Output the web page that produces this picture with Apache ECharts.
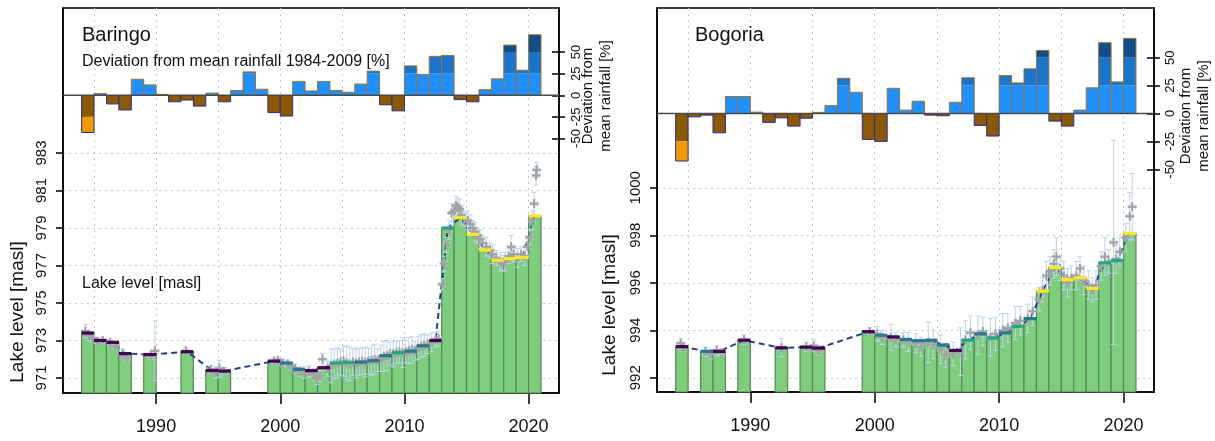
<!DOCTYPE html>
<html><head><meta charset="utf-8">
<script src="https://cdn.jsdelivr.net/npm/echarts@6/dist/echarts.min.js"></script>
<style>html,body{margin:0;padding:0;background:#fff}#c{width:1215px;height:441px}</style>
</head><body><div id="c"></div><script>
// ---------------- data ----------------
const years = [1984,1985,1986,1987,1988,1989,1990,1991,1992,1993,1994,1995,1996,1997,1998,1999,2000,2001,2002,2003,2004,2005,2006,2007,2008,2009,2010,2011,2012,2013,2014,2015,2016,2017,2018,2019,2020];
const baringoRain = [-43,2,-10,-17,18.5,12,1,-7.5,-5.5,-12.5,2.5,-7.5,5.5,27,7,-20,-24,16,5,16,5.5,3.5,13,28,-11,-18,34,24,45,46,-5,-7.5,6.5,19,58,29,70];
const bogoriaRain = [-42.6,-3,-1.5,-17.3,15.2,15.2,1.2,-8,-3.9,-11.3,-4.2,1,7,31.5,19,-23.2,-25,22.6,3,11,-1.5,-2,10,32,-10.7,-20.2,34,27.4,40,56.5,-6.8,-11.3,3,23,63.4,28.3,67.3];

const baringoLakeYears = [1984,1985,1986,1987,1989,1992,1994,1995,1999,2000,2001,2002,2003,2004,2005,2006,2007,2008,2009,2010,2011,2012,2013,2014,2015,2016,2017,2018,2019,2020];
const baringoLakeLevel = [973.4,973.0,972.9,972.3,972.25,972.4,971.4,971.37,971.9,971.8,971.46,971.39,971.55,971.8,971.83,971.85,971.92,972.19,972.35,972.43,972.72,973.0,979.0,979.55,978.66,977.82,977.28,977.37,977.43,979.64];
const baringoLakeClass = ['P','P','P','P','P','P','P','P','P','T','T','P','P','G','G','T','T','T','G','T','T','P','G','Y','Y','Y','Y','Y','Y','Y'];

const bogoriaLakeYears = [1984,1986,1987,1989,1992,1994,1995,1999,2000,2001,2002,2003,2004,2005,2006,2007,2008,2009,2010,2011,2012,2013,2014,2015,2016,2017,2018,2019,2020];
const bogoriaLakeLevel = [993.31,993.11,993.11,993.58,993.26,993.29,993.25,993.94,993.79,993.72,993.61,993.56,993.58,993.38,993.15,993.58,993.85,993.67,993.89,994.17,994.49,995.65,996.64,996.13,996.21,995.76,996.84,996.94,998.08];
const bogoriaLakeClass = ['P','T','P','P','P','P','P','P','T','P','T','T','T','T','P','G','T','G','T','G','T','Y','Y','Y','Y','Y','G','G','Y'];

// individual observations: [decimal year, level, vertical error]
const baringoObs = [
[1984.3,973.5,0.35],[1984.6,973.25,0.25],[1984.9,973.1,0.2],
[1985.3,972.95,0.15],[1985.7,973.0,0.1],
[1986.3,972.9,0.2],[1986.7,972.7,0.2],
[1987.3,972.3,0.25],[1987.6,972.05,0.2],
[1989.6,972.2,0.2],[1989.9,972.45,1.6],
[1992.4,972.45,0.15],
[1994.4,971.45,0.2],[1994.8,971.3,0.3],
[1995.1,971.5,0.45],[1995.5,971.35,0.2],
[1999.5,971.9,0.15],[1999.8,971.95,0.1],
[2000.2,971.8,0.2],[2000.6,971.75,0.2],[2000.9,971.6,0.2],
[2001.2,971.5,0.25],[2001.6,971.35,0.25],[2001.9,971.3,0.3],
[2002.3,971.35,0.3],[2002.7,971.2,0.3],[2002.95,970.95,0.3],
[2003.2,971.1,0.3],[2003.4,972.0,0.3],[2003.8,971.5,0.4],
[2004.1,971.65,0.9],[2004.35,971.75,0.8],[2004.6,971.8,0.8],[2004.85,971.85,0.7],
[2005.1,971.9,0.8],[2005.35,971.8,0.9],[2005.6,971.75,0.9],[2005.85,971.85,0.7],
[2006.1,971.8,0.8],[2006.35,971.85,0.7],[2006.6,971.9,0.7],[2006.85,971.85,0.8],
[2007.1,971.9,0.7],[2007.35,971.95,0.8],[2007.6,972.0,0.8],[2007.85,971.95,0.6],
[2008.1,972.05,0.7],[2008.35,972.15,0.8],[2008.6,972.2,0.8],[2008.85,972.3,0.6],
[2009.1,972.3,0.7],[2009.35,972.35,0.6],[2009.6,972.4,0.6],[2009.85,972.35,0.8],
[2010.1,972.4,0.6],[2010.35,972.45,0.7],[2010.6,972.5,0.7],[2010.85,972.45,0.5],
[2011.1,972.6,0.6],[2011.35,972.7,0.6],[2011.6,972.75,0.6],[2011.85,972.8,0.5],
[2012.2,972.9,0.5],[2012.5,973.05,0.4],[2012.75,973.1,0.4],
[2013.05,976.0,0.3],[2013.2,977.1,0.4],[2013.4,978.1,0.4],[2013.6,978.9,0.5],[2013.8,979.8,0.5],
[2014.0,979.9,0.4],[2014.15,980.2,0.5],[2014.3,980.1,0.5],[2014.45,980.0,0.5],[2014.6,979.7,0.5],[2014.8,979.5,0.4],
[2015.1,979.4,0.5],[2015.3,979.2,0.5],[2015.5,979.0,0.4],[2015.7,978.8,0.5],[2015.9,978.6,0.4],
[2016.1,978.4,0.5],[2016.3,978.2,0.4],[2016.6,978.0,0.5],[2016.9,977.8,0.4],
[2017.1,977.6,0.5],[2017.4,977.4,0.4],[2017.7,977.2,0.5],[2017.9,977.15,0.4],
[2018.1,977.2,0.5],[2018.4,977.5,0.4],[2018.6,978.0,0.6],[2018.8,977.6,0.4],
[2019.1,977.4,0.5],[2019.4,977.6,0.4],[2019.7,977.5,0.5],[2019.9,978.0,0.5],
[2020.1,978.5,0.4],[2020.3,979.4,0.5],[2020.45,980.3,0.6],[2020.6,981.8,0.5],[2020.65,982.1,0.4]
];
const bogoriaObs = [
[1984.4,993.45,0.2],[1984.6,993.25,0.15],
[1986.4,993.1,0.2],[1986.8,993.0,0.2],
[1987.3,993.15,0.2],[1987.7,993.05,0.15],
[1989.5,993.6,0.2],
[1992.5,993.27,0.38],
[1994.5,993.3,0.2],[1995.1,993.35,0.25],[1995.5,993.15,0.2],
[1999.6,993.95,0.15],
[2000.2,993.85,0.3],[2000.6,993.7,0.3],
[2001.3,993.7,0.55],[2001.7,993.6,0.3],
[2002.3,993.6,0.3],[2002.7,993.5,0.4],
[2003.3,993.45,0.4],[2003.7,993.3,0.4],
[2004.3,993.5,0.85],[2004.7,993.4,0.6],
[2005.3,993.2,0.6],[2005.7,992.95,0.5],
[2006.3,993.0,0.5],[2006.9,993.1,1.0],
[2007.3,993.6,0.8],[2007.7,993.9,0.7],
[2008.3,993.8,0.8],[2008.7,993.95,0.6],
[2009.3,993.7,0.8],[2009.7,993.85,0.7],
[2010.3,994.0,0.7],[2010.7,994.1,0.6],
[2011.3,994.3,0.7],[2011.7,994.4,0.6],
[2012.3,994.5,0.6],[2012.7,994.8,0.6],
[2013.2,995.3,0.5],[2013.5,995.7,0.5],[2013.8,996.3,0.6],
[2014.1,996.5,0.6],[2014.4,996.8,0.6],[2014.6,997.1,0.8],[2014.9,996.6,0.5],
[2015.2,996.3,0.6],[2015.5,996.0,0.6],[2015.8,996.2,0.5],
[2016.2,996.3,0.6],[2016.5,996.6,0.5],[2016.8,996.1,0.6],
[2017.2,995.9,0.6],[2017.5,995.7,0.5],[2017.8,995.9,0.6],
[2018.2,996.7,0.6],[2018.5,997.1,0.8],[2018.8,996.9,0.5],
[2019.2,997.7,4.3],[2019.4,997.0,0.6],[2019.7,997.3,0.6],
[2020.2,997.9,0.6],[2020.5,998.8,1.0],[2020.7,999.2,1.4]
];
const obsXErr = 0.25;

const yearTicks = [1990,2000,2010,2020];
const yearGridLines = [1985,1990,1995,2000,2005,2010,2015,2020];
const rainTicks = [-50,-25,0,25,50];
const baringoLevelTicks = [971,973,975,977,979,981,983];
const bogoriaLevelTicks = [992,994,996,998,1000];

// ---------------- style ----------------
const FONT = '"Liberation Sans", Arial, sans-serif';
const TXT = '#111';
const CAPCOL = {P:'#440154', T:'#2a788e', G:'#22a884', Y:'#fde725'};
const X_MIN = 1982.5, X_MAX = 2022.45;
const plain = v => String(v);

const panels = [
  {name:'Baringo', left:63, top:8, width:496, height:385, rain:baringoRain, rainMin:-344.2, rainMax:100.9,
   lakeYears:baringoLakeYears, lakeLevel:baringoLakeLevel, lakeClass:baringoLakeClass, obs:baringoObs,
   lakeMin:970.2, lakeMax:990.73, levelTicks:baringoLevelTicks, rainMargin:11, levelMargin:14},
  {name:'Bogoria', left:657, top:8, width:497, height:384, rain:bogoriaRain, rainMin:-249.5, rainMax:94.5,
   lakeYears:bogoriaLakeYears, lakeLevel:bogoriaLakeLevel, lakeClass:bogoriaLakeClass, obs:bogoriaObs,
   lakeMin:991.4, lakeMax:1007.57, levelTicks:bogoriaLevelTicks, rainMargin:10, levelMargin:14}
];

function rainItem(params, api) {
  const yr = api.value(0), v = api.value(1);
  const pa = api.coord([yr, 0]), pb = api.coord([yr + 1, 0]);
  const xa = pa[0], xb = pb[0], y0 = pa[1];
  const bands = v >= 0
    ? [[0, 25, '#1e90ff'], [25, 50, '#1874cd'], [50, 1e9, '#104e8b']]
    : [[-25, 0, '#8b5a00'], [-1e9, -25, '#ee9a00']];
  const children = [];
  bands.forEach(b => {
    const lo = Math.max(b[0], Math.min(v, 0)), hi = Math.min(b[1], Math.max(v, 0));
    if (hi > lo) {
      const yt = api.coord([yr, hi])[1], yb = api.coord([yr, lo])[1];
      children.push({type:'rect', shape:{x:xa, y:yt, width:xb - xa, height:yb - yt}, style:{fill:b[2]}});
    }
  });
  const yv = api.coord([yr, v])[1];
  children.push({type:'polyline', shape:{points:[[xa,y0],[xa,yv],[xb,yv],[xb,y0]]},
    style:{fill:null, stroke: v >= 0 ? '#9a7430' : '#2c2c99', lineWidth:1}});
  return {type:'group', children};
}
function lakeItem(params, api) {
  const yr = api.value(0), lv = api.value(1);
  const p1 = api.coord([yr, lv]), p2 = api.coord([yr + 1, lv]);
  const bottom = params.coordSys.y + params.coordSys.height;
  return {type:'rect', shape:{x:p1[0], y:p1[1], width:p2[0] - p1[0], height:bottom - p1[1]},
    style:{fill:'#7ccd7c', stroke:'#5a875a', lineWidth:1.2}};
}
function capItemFactory(classes) {
  return function (params, api) {
    const yr = api.value(0), lv = api.value(1);
    const p1 = api.coord([yr, lv]), p2 = api.coord([yr + 1, lv]);
    return {type:'line', shape:{x1:p1[0], y1:p1[1], x2:p2[0], y2:p2[1]},
      style:{stroke:CAPCOL[classes[params.dataIndex]], lineWidth:3.2}};
  };
}
function seg(x1, y1, x2, y2, st) { return {type:'line', shape:{x1, y1, x2, y2}, style:st}; }
function errItem(params, api) {
  const x = api.value(0), y = api.value(1), e = api.value(2);
  const c = api.coord([x, y]), t = api.coord([x, y + e]), b = api.coord([x, y - e]);
  const l = api.coord([x - obsXErr, y]), r = api.coord([x + obsXErr, y]);
  const w = 2.5, st = {stroke:'#b9d3ee', lineWidth:1};
  return {type:'group', children:[
    seg(c[0], t[1], c[0], b[1], st), seg(c[0]-w, t[1], c[0]+w, t[1], st), seg(c[0]-w, b[1], c[0]+w, b[1], st),
    seg(l[0], c[1], r[0], c[1], st), seg(l[0], c[1]-w, l[0], c[1]+w, st), seg(r[0], c[1]-w, r[0], c[1]+w, st)
  ]};
}
function crossItem(params, api) {
  const c = api.coord([api.value(0), api.value(1)]);
  const s = 4.5, st = {stroke:'#a3a3a3', lineWidth:2.2};
  return {type:'group', children:[seg(c[0]-s, c[1], c[0]+s, c[1], st), seg(c[0], c[1]-s, c[0], c[1]+s, st)]};
}

const grid = [], xAxis = [], yAxis = [], series = [];
panels.forEach((p, i) => {
  const gRain = grid.length;
  grid.push({left:p.left, top:p.top, width:p.width, height:p.height, show:false});
  const gLake = grid.length;
  grid.push({left:p.left, top:p.top, width:p.width, height:p.height, show:true,
    borderColor:'#000', borderWidth:1.5, backgroundColor:'transparent'});

  const xRain = xAxis.length;
  xAxis.push({gridIndex:gRain, type:'value', min:X_MIN, max:X_MAX, position:'bottom',
    axisLine:{show:false}, axisTick:{show:false, customValues:yearGridLines},
    axisLabel:{show:false, customValues:yearGridLines},
    splitLine:{show:true, lineStyle:{color:'#c8c8c8', type:[2,4], width:1}}});
  const xLake = xAxis.length;
  xAxis.push({gridIndex:gLake, type:'value', min:X_MIN, max:X_MAX, position:'bottom',
    axisLine:{show:true, onZero:false, lineStyle:{color:'#000', width:1.5}},
    axisTick:{show:true, length:11, customValues:yearTicks, lineStyle:{color:'#000', width:1.5}},
    axisLabel:{customValues:yearTicks, formatter:plain, margin:25, fontSize:18, color:TXT, fontFamily:FONT},
    splitLine:{show:false}});

  const yRain = yAxis.length;
  yAxis.push({gridIndex:gRain, type:'value', min:p.rainMin, max:p.rainMax, position:'right',
    axisLine:{show:true, onZero:false, lineStyle:{color:'#000', width:1.5}},
    axisTick:{show:true, length:6, customValues:rainTicks, lineStyle:{color:'#000', width:1.5}},
    axisLabel:{customValues:rainTicks, formatter:plain, rotate:90, margin:p.rainMargin, fontSize:13, color:TXT, fontFamily:FONT},
    splitLine:{show:false}});
  yAxis.push({gridIndex:gRain, type:'value', min:p.rainMin, max:p.rainMax, position:'right',
    axisLine:{show:false}, axisTick:{show:true, inside:true, length:7, customValues:rainTicks, lineStyle:{color:'#000', width:1.5}},
    axisLabel:{show:false}, splitLine:{show:false}});
  const yLake = yAxis.length;
  yAxis.push({gridIndex:gLake, type:'value', min:p.lakeMin, max:p.lakeMax, position:'left',
    axisLine:{show:true, onZero:false, lineStyle:{color:'#000', width:1.5}},
    axisTick:{show:true, length:7, customValues:p.levelTicks, lineStyle:{color:'#000', width:1.5}},
    axisLabel:{customValues:p.levelTicks, formatter:plain, rotate:90, margin:p.levelMargin, fontSize:15, color:TXT, fontFamily:FONT},
    splitLine:{show:true, lineStyle:{color:'#c8c8c8', type:[2,4], width:1}}});

  series.push({type:'custom', xAxisIndex:xRain, yAxisIndex:yRain, z:3, silent:true,
    data:years.map((y, k) => [y, p.rain[k]]), renderItem:rainItem, encode:{x:0, y:1}});
  series.push({type:'line', xAxisIndex:xRain, yAxisIndex:yRain, z:4, silent:true, symbol:'none',
    data:[[X_MIN, 0], [X_MAX, 0]], lineStyle:{color:'#4a4a4a', width:1.5}});
  series.push({type:'custom', xAxisIndex:xLake, yAxisIndex:yLake, z:2, silent:true,
    data:p.lakeYears.map((y, k) => [y, p.lakeLevel[k]]), renderItem:lakeItem, encode:{x:0, y:1}});
  series.push({type:'line', xAxisIndex:xLake, yAxisIndex:yLake, z:3, silent:true, symbol:'none',
    data:p.lakeYears.map((y, k) => [y + 0.5, p.lakeLevel[k]]),
    lineStyle:{color:'#27408b', width:2, type:[6,4]}});
  series.push({type:'custom', xAxisIndex:xLake, yAxisIndex:yLake, z:4, silent:true,
    data:p.obs, renderItem:errItem, encode:{x:0, y:1}});
  series.push({type:'custom', xAxisIndex:xLake, yAxisIndex:yLake, z:5, silent:true,
    data:p.obs, renderItem:crossItem, encode:{x:0, y:1}});
  series.push({type:'custom', xAxisIndex:xLake, yAxisIndex:yLake, z:6, silent:true,
    data:p.lakeYears.map((y, k) => [y, p.lakeLevel[k]]), renderItem:capItemFactory(p.lakeClass), encode:{x:0, y:1}});
});

function txt(x, y, text, size, opts) {
  return Object.assign({type:'text', x, y, z:100, silent:true,
    style:{text, fontSize:size, fontFamily:FONT, fill:TXT, align:'left', verticalAlign:'middle', lineHeight:size + 3}}, opts || {});
}
const graphic = [
  txt(82, 35, 'Baringo', 20),
  txt(82, 62, 'Deviation from mean rainfall 1984-2009 [%]', 16),
  txt(82, 284, 'Lake level [masl]', 16),
  txt(695, 35, 'Bogoria', 20),
  txt(18, 312, 'Lake level [masl]', 19, {rotation:Math.PI/2}),
  txt(610, 305, 'Lake level [masl]', 19, {rotation:Math.PI/2}),
  txt(597, 96, 'Deviation from\nmean rainfall [%]', 15, {rotation:Math.PI/2}),
  txt(1195, 116, 'Deviation from\nmean rainfall [%]', 15, {rotation:Math.PI/2})
];
graphic.forEach((g, k) => { if (k >= 4) { g.style.align = 'center'; } });

const chart = echarts.init(document.getElementById('c'), null, {renderer:'canvas'});
chart.setOption({animation:false, backgroundColor:'#fff', grid, xAxis, yAxis, series, graphic});
</script></body></html>
